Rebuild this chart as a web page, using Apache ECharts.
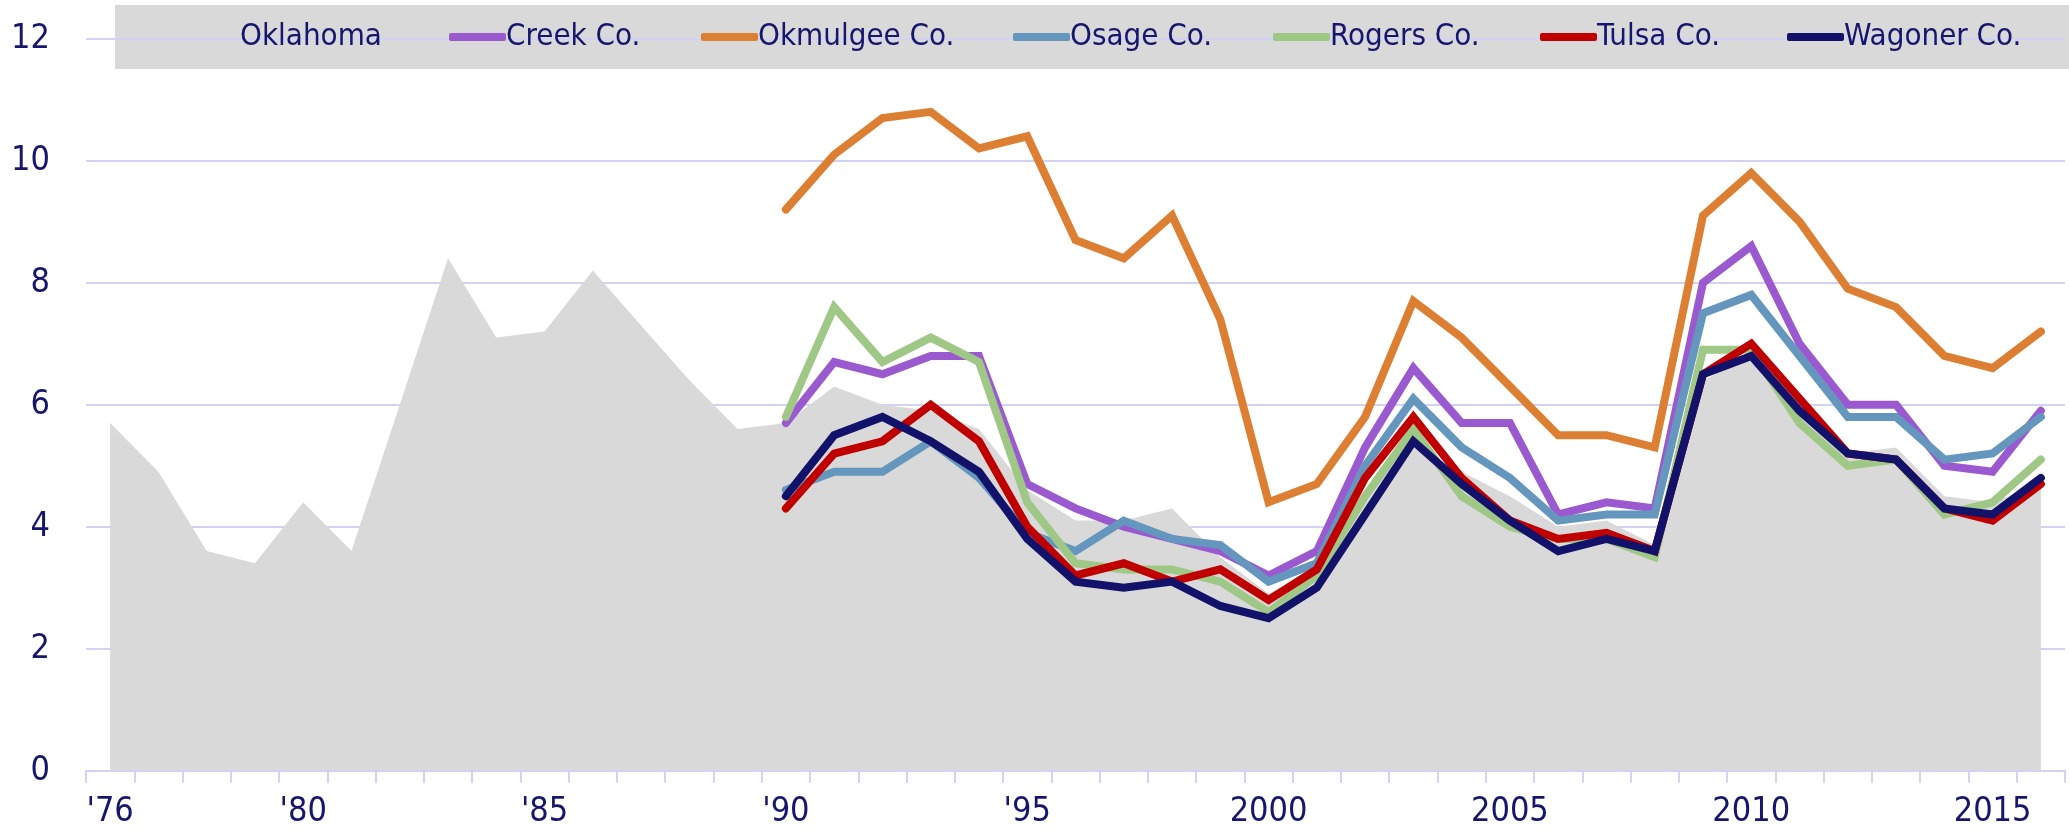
<!DOCTYPE html>
<html>
<head>
<meta charset="utf-8">
<script src="https://cdn.jsdelivr.net/npm/echarts@6/dist/echarts.min.js"></script>
<style>
  html, body { margin: 0; padding: 0; background: #ffffff; }
  #chart { width: 2069px; height: 836px; }
</style>
</head>
<body>
<div id="chart"></div>
<script>
const categories = ['1976','1977','1978','1979','1980','1981','1982','1983','1984','1985',
  '1986','1987','1988','1989','1990','1991','1992','1993','1994','1995',
  '1996','1997','1998','1999','2000','2001','2002','2003','2004','2005',
  '2006','2007','2008','2009','2010','2011','2012','2013','2014','2015','2016'];

const xTickLabels = { '1976': "'76", '1980': "'80", '1985': "'85", '1990': "'90", '1995': "'95",
  '2000': '2000', '2005': '2005', '2010': '2010', '2015': '2015' };

const yTicks = [0, 2, 4, 6, 8, 10, 12];

const oklahoma = [5.7, 4.9, 3.6, 3.4, 4.4, 3.6, 6.0, 8.4, 7.1, 7.2,
  8.2, 7.3, 6.4, 5.6, 5.7, 6.3, 6.0, 5.9, 5.6, 4.6,
  4.1, 4.1, 4.3, 3.5, 2.9, 3.3, 4.6, 5.3, 4.9, 4.5,
  4.0, 4.1, 3.7, 6.4, 6.8, 5.9, 5.2, 5.3, 4.5, 4.4, 4.7];

const pre = [null, null, null, null, null, null, null, null, null, null, null, null, null, null];

const creek = pre.concat([5.7, 6.7, 6.5, 6.8, 6.8, 4.7, 4.3, 4.0, 3.8, 3.6,
  3.2, 3.6, 5.3, 6.6, 5.7, 5.7, 4.2, 4.4, 4.3, 8.0,
  8.6, 7.0, 6.0, 6.0, 5.0, 4.9, 5.9]);
const okmulgee = pre.concat([9.2, 10.1, 10.7, 10.8, 10.2, 10.4, 8.7, 8.4, 9.1, 7.4,
  4.4, 4.7, 5.8, 7.7, 7.1, 6.3, 5.5, 5.5, 5.3, 9.1,
  9.8, 9.0, 7.9, 7.6, 6.8, 6.6, 7.2]);
const osage = pre.concat([4.6, 4.9, 4.9, 5.4, 4.8, 3.9, 3.6, 4.1, 3.8, 3.7,
  3.1, 3.4, 5.0, 6.1, 5.3, 4.8, 4.1, 4.2, 4.2, 7.5,
  7.8, 6.8, 5.8, 5.8, 5.1, 5.2, 5.8]);
const rogers = pre.concat([5.8, 7.6, 6.7, 7.1, 6.7, 4.4, 3.4, 3.3, 3.3, 3.1,
  2.6, 3.2, 4.5, 5.6, 4.5, 4.0, 3.8, 3.8, 3.5, 6.9,
  6.9, 5.7, 5.0, 5.1, 4.2, 4.4, 5.1]);
const tulsa = pre.concat([4.3, 5.2, 5.4, 6.0, 5.4, 4.0, 3.2, 3.4, 3.1, 3.3,
  2.8, 3.3, 4.8, 5.8, 4.8, 4.1, 3.8, 3.9, 3.6, 6.5,
  7.0, 6.1, 5.2, 5.1, 4.3, 4.1, 4.7]);
const wagoner = pre.concat([4.5, 5.5, 5.8, 5.4, 4.9, 3.8, 3.1, 3.0, 3.1, 2.7,
  2.5, 3.0, 4.2, 5.4, 4.7, 4.1, 3.6, 3.8, 3.6, 6.5,
  6.8, 5.9, 5.2, 5.1, 4.3, 4.2, 4.8]);

const seriesNames = ['Oklahoma', 'Creek Co.', 'Okmulgee Co.', 'Osage Co.', 'Rogers Co.', 'Tulsa Co.', 'Wagoner Co.'];
const seriesColors = ['#d9d9d9', '#9b59cf', '#dd7f33', '#6496be', '#9fc785', '#c00000', '#12126a'];
const countyData = [creek, okmulgee, osage, rogers, tulsa, wagoner];

const FONT = "'Liberation Sans Narrow', 'DejaVu Sans Condensed', sans-serif";
const TEXT = '#16166c';
const GRIDC = '#d2d2f4';

const legendLeft = [240, 449, 701, 1013, 1273, 1540, 1787];

const chart = echarts.init(document.getElementById('chart'), null, { renderer: 'canvas' });

const series = [{
  name: seriesNames[0],
  type: 'line',
  data: oklahoma,
  symbol: 'none',
  lineStyle: { width: 0, color: seriesColors[0] },
  itemStyle: { color: seriesColors[0] },
  areaStyle: { color: seriesColors[0], opacity: 1 },
  z: 1
}];
countyData.forEach((d, i) => {
  series.push({
    name: seriesNames[i + 1],
    type: 'line',
    data: d,
    symbol: 'none',
    connectNulls: false,
    itemStyle: { color: seriesColors[i + 1] },
    lineStyle: { width: 8, color: seriesColors[i + 1], cap: 'round', join: 'miter' },
    z: 3 + i
  });
});

const legends = seriesNames.map((n, i) => ({
  data: [n],
  left: legendLeft[i],
  top: 17,
  padding: 0,
  orient: 'horizontal',
  icon: 'roundRect',
  itemWidth: i === 0 ? 0 : 57,
  itemHeight: 8,
  itemGap: 0,
  itemStyle: i === 0 ? { opacity: 0 } : {},
  selectedMode: false,
  textStyle: { fontFamily: FONT, fontSize: 31, color: TEXT, lineHeight: 40, padding: [0, 0, 0, -5] }
}));

chart.setOption({
  animation: false,
  backgroundColor: '#ffffff',
  graphic: [{
    type: 'rect',
    left: 115, top: 5,
    shape: { width: 1954, height: 64 },
    style: { fill: '#d9d9d9' },
    z: 0
  }],
  legend: legends,
  grid: { left: 86, right: 4, top: 38.7, bottom: 65.3, containLabel: false },
  xAxis: {
    type: 'category',
    data: categories,
    boundaryGap: true,
    axisLine: { show: true, lineStyle: { color: GRIDC, width: 2 } },
    axisTick: { show: true, interval: 0, length: 12, lineStyle: { color: GRIDC, width: 2 } },
    axisLabel: {
      interval: (idx, val) => xTickLabels[val] !== undefined,
      formatter: (val) => xTickLabels[val] || '',
      fontFamily: FONT, fontSize: 34, color: TEXT, margin: 24
    },
    splitLine: { show: false }
  },
  yAxis: {
    type: 'value',
    min: yTicks[0], max: yTicks[yTicks.length - 1], interval: 2,
    axisLine: { show: false },
    axisTick: { show: false },
    axisLabel: { fontFamily: FONT, fontSize: 34, color: TEXT, margin: 36 },
    splitLine: { show: true, lineStyle: { color: GRIDC, width: 2 } }
  },
  series: series
});
</script>
</body>
</html>
